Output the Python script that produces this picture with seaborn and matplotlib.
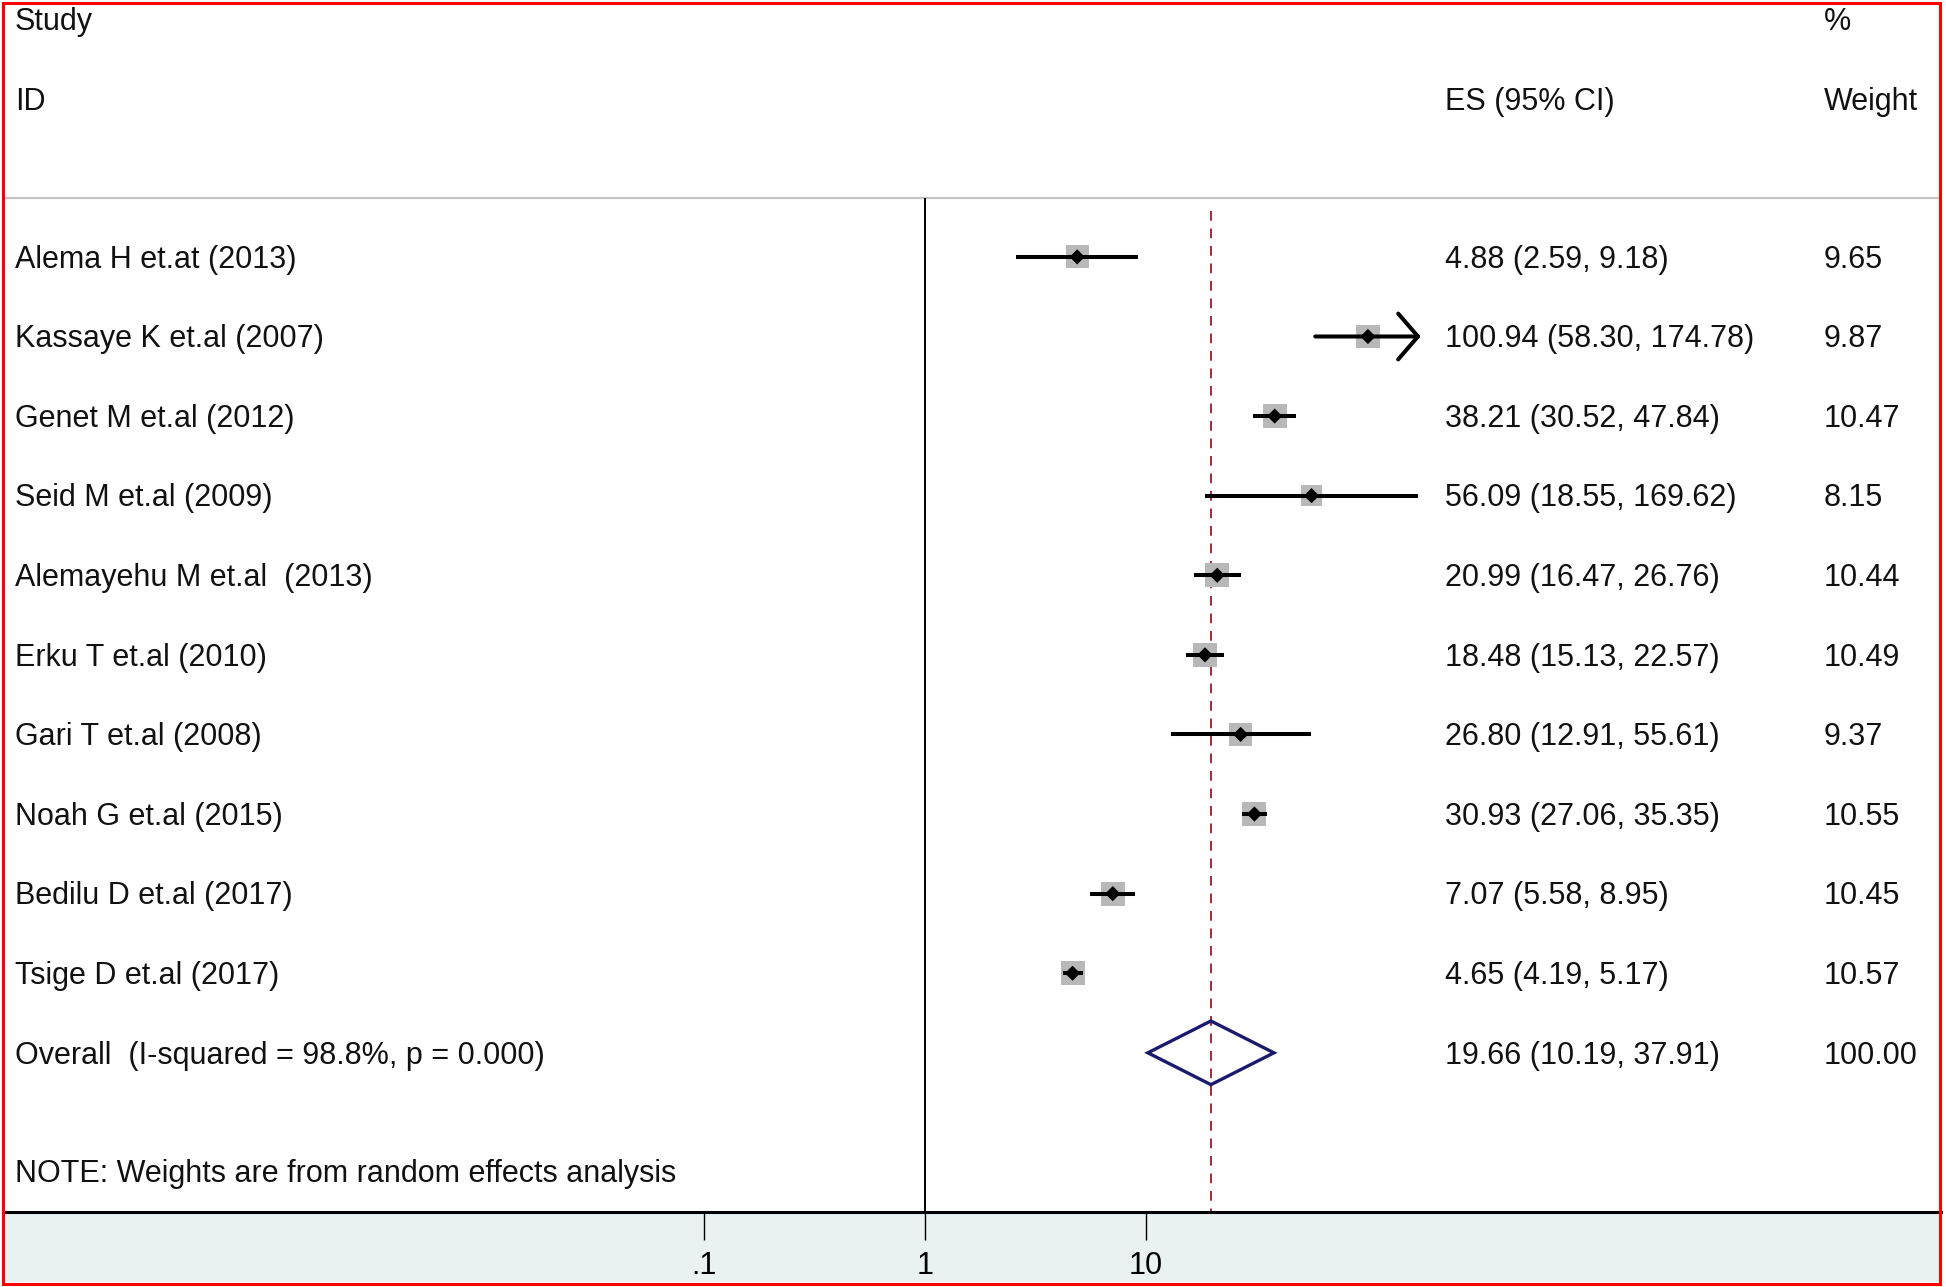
import numpy as np
import pandas as pd
import matplotlib
matplotlib.use('Agg')
import matplotlib.pyplot as plt
import matplotlib.transforms as mtransforms
from matplotlib.patches import Rectangle, Polygon
import seaborn as sns

# ---- data ----
studies = [
    'Alema H et.at (2013)',
    'Kassaye K et.al (2007)',
    'Genet M et.al (2012)',
    'Seid M et.al (2009)',
    'Alemayehu M et.al  (2013)',
    'Erku T et.al (2010)',
    'Gari T et.al (2008)',
    'Noah G et.al (2015)',
    'Bedilu D et.al (2017)',
    'Tsige D et.al (2017)',
]
es = [4.88, 100.94, 38.21, 56.09, 20.99, 18.48, 26.80, 30.93, 7.07, 4.65]
ci_low = [2.59, 58.30, 30.52, 18.55, 16.47, 15.13, 12.91, 27.06, 5.58, 4.19]
ci_high = [9.18, 174.78, 47.84, 169.62, 26.76, 22.57, 55.61, 35.35, 8.95, 5.17]
weights = [9.65, 9.87, 10.47, 8.15, 10.44, 10.49, 9.37, 10.55, 10.45, 10.57]
arrow_right = [False, True, False, False, False, False, False, False, False, False]

overall_label = 'Overall  (I-squared = 98.8%, p = 0.000)'
overall_es = 19.66
overall_low = 10.19
overall_high = 37.91
overall_weight = 100.00

note_text = 'NOTE: Weights are from random effects analysis'
tick_values = [0.1, 1, 10]
tick_labels = ['.1', '1', '10']

df = pd.DataFrame({'study': studies, 'es': es, 'lo': ci_low, 'hi': ci_high,
                   'w': weights})
df['row'] = np.arange(len(df))
overall_row = len(df)

# ---- style ----
sns.set_style('white')
plt.rcParams['font.family'] = ['Liberation Sans', 'DejaVu Sans']
FS = 22

W, H = 1946, 1287
fig = plt.figure(figsize=(W / 100, H / 100), dpi=100, facecolor='white')

# axes: plot region ends at the axis line, band below
ax = fig.add_axes([3 / W, (H - 1212) / H, 1938 / W, (1212 - 3) / H])
ax.set_facecolor('white')
ax.set_xscale('log')
ax.set_xlim(10 ** -4.172, 10 ** 4.597)
ax.set_ylim(12.0, -3.19)

# light band under the axis + red frame
fig.patches.append(Rectangle((3 / W, (H - 1282) / H), 1938 / W, 70 / H,
                             transform=fig.transFigure, facecolor='#E9F1F3',
                             edgecolor='none', zorder=-5))
fig.patches.append(Rectangle((2.5 / W, 3 / H), 1937 / W, 1281 / H,
                             transform=fig.transFigure, facecolor='none',
                             edgecolor='#FF0000', linewidth=2.2, zorder=10))

for s in ['top', 'left', 'right']:
    ax.spines[s].set_visible(False)
ax.spines['bottom'].set_color('black')
ax.spines['bottom'].set_linewidth(2.2)

ax.set_xticks(tick_values)
ax.set_xticklabels(tick_labels)
ax.xaxis.set_minor_locator(matplotlib.ticker.NullLocator())
ax.tick_params(axis='x', direction='out', length=20, width=1.0, pad=8,
               labelsize=FS, colors='black', bottom=True)
ax.set_yticks([])

# header separator and reference lines
ax.axhline(-0.735, color='#C4C4C4', lw=1.6, zorder=1)
ax.vlines(1, -0.735, 12.0, color='black', lw=1.4, zorder=2)
ax.vlines(overall_es, -0.58, 12.0, color='#A8283A', lw=1.4,
          linestyles=(0, (5, 4)), zorder=2)

# CI lines
for r, lo, hi, arr in zip(df['row'], df['lo'], df['hi'], arrow_right):
    if arr:
        ax.annotate('', xy=(hi, r), xytext=(lo, r),
                    arrowprops=dict(arrowstyle='->,head_length=0.95,head_width=1.1',
                                    lw=2.9, color='black', mutation_scale=15,
                                    shrinkA=0, shrinkB=0), zorder=4)
    else:
        ax.hlines(r, lo, hi, color='black', lw=2.9, zorder=4)

# weight boxes (area proportional to weight) and point estimates
sns.scatterplot(data=df, x='es', y='row', size='w', sizes=(0, 300),
                size_norm=(0, max(weights)), marker='s', color='#B8B8B8',
                edgecolor='none', legend=False, zorder=3, ax=ax)
sns.scatterplot(data=df, x='es', y='row', marker='D', color='black', s=60,
                edgecolor='none', legend=False, zorder=5, ax=ax)
ax.xaxis.label.set_visible(False)
ax.yaxis.label.set_visible(False)

# overall diamond
ax.add_patch(Polygon([(overall_low, overall_row), (overall_es, overall_row - 0.4),
                      (overall_high, overall_row), (overall_es, overall_row + 0.4)],
                     closed=True, facecolor='none', edgecolor='#1B1B6E',
                     lw=2.4, zorder=6))

# text columns
tr = mtransforms.blended_transform_factory(ax.transAxes, ax.transData)
x_study, x_es, x_wt = 0.0062, 0.744, 0.9396
dy = 0.035
txt = dict(transform=tr, fontsize=FS, va='center', ha='left', color='#111111')

ax.text(x_study, -2.98 + dy, 'Study', **txt)
ax.text(x_study, -1.985 + dy, 'ID', **txt)
ax.text(x_es, -1.985 + dy, 'ES (95% CI)', **txt)
ax.text(x_wt, -2.98 + dy, '%', **txt)
ax.text(x_wt, -1.985 + dy, 'Weight', **txt)

for r, name, e, lo, hi, w in zip(df['row'], studies, es, ci_low, ci_high, weights):
    ax.text(x_study, r + dy, name, **txt)
    ax.text(x_es, r + dy, f'{e:.2f} ({lo:.2f}, {hi:.2f})', **txt)
    ax.text(x_wt, r + dy, f'{w:.2f}', **txt)

ax.text(x_study, overall_row + dy, overall_label, **txt)
ax.text(x_es, overall_row + dy, f'{overall_es:.2f} ({overall_low:.2f}, {overall_high:.2f})', **txt)
ax.text(x_wt, overall_row + dy, f'{overall_weight:.2f}', **txt)
ax.text(x_study, 11.49 + dy, note_text, **txt)

fig.savefig('out.png', dpi=100, facecolor='white')
